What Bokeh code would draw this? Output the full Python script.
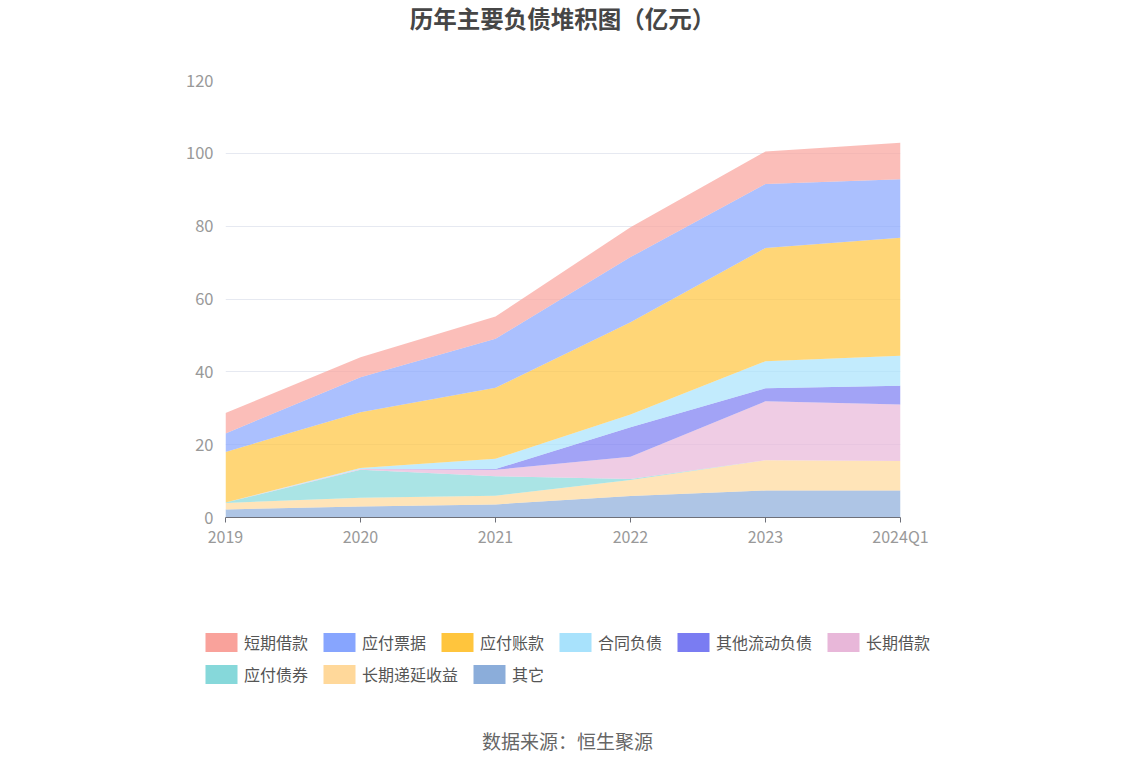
from bokeh.plotting import figure
from bokeh.models import ColumnDataSource, Legend, LegendItem, Label, FixedTicker
from bokeh.layouts import column
from bokeh.embed import file_html
from bokeh.resources import INLINE

years = ["2019", "2020", "2021", "2022", "2023", "2024Q1"]

# series, bottom to top of the stack (亿元)
qita = [2.2, 3.0, 3.6, 5.9, 7.4, 7.4]            # 其它
changqi_diyan = [1.8, 2.4, 2.4, 4.4, 8.3, 8.1]   # 长期递延收益
yingfu_zhaiquan = [0.1, 7.7, 5.3, 0.3, 0.0, 0.0] # 应付债券
changqi_jiekuan = [0.0, 0.2, 1.8, 6.1, 16.2, 15.5]  # 长期借款
qita_liudong = [0.0, 0.0, 0.2, 8.1, 3.6, 5.2]    # 其他流动负债
hetong_fuzhai = [0.0, 0.3, 2.8, 3.5, 7.4, 8.2]   # 合同负债
yingfu_zhangkuan = [13.9, 15.3, 19.5, 25.3, 31.1, 32.4]  # 应付账款
yingfu_piaoju = [5.1, 9.6, 13.5, 17.9, 17.6, 16.1]       # 应付票据
duanqi_jiekuan = [5.6, 5.5, 6.1, 8.2, 8.9, 10.0]         # 短期借款

names = ["其它", "长期递延收益", "应付债券", "长期借款", "其他流动负债",
         "合同负债", "应付账款", "应付票据", "短期借款"]
series = [qita, changqi_diyan, yingfu_zhaiquan, changqi_jiekuan, qita_liudong,
          hetong_fuzhai, yingfu_zhangkuan, yingfu_piaoju, duanqi_jiekuan]
colors = ["#8badda", "#ffd89a", "#86d8da", "#e8b7d9", "#7a7cf2",
          "#a8e2fc", "#ffc53d", "#87a5fe", "#f9a29b"]
color_of = dict(zip(names, colors))

legend_row1 = ["短期借款", "应付票据", "应付账款", "合同负债", "其他流动负债", "长期借款"]
legend_row2 = ["应付债券", "长期递延收益", "其它"]

y_ticks = [0, 20, 40, 60, 80, 100, 120]

FONT = "Noto Sans CJK SC"
W = 1126

data = {"x": list(range(len(years)))}
for n, s in zip(names, series):
    data[n] = s
source = ColumnDataSource(data)

# ---- title strip ----
TH = 65
top = figure(width=W, height=TH, x_range=(0, W), y_range=(0, TH),
             output_backend="svg", toolbar_location=None,
             x_axis_type=None, y_axis_type=None, min_border=0,
             frame_align=False)
top.outline_line_color = None
top.grid.visible = False
top.add_layout(Label(x=562, y=TH - 17, text="历年主要负债堆积图（亿元）",
                     text_align="center", text_baseline="middle",
                     text_font_size="23.5px", text_font_style="bold",
                     text_color="#464646", text_font=FONT))

# ---- main chart ----
p = figure(width=W, height=505, x_range=(0, len(years) - 1), y_range=(0, 120),
           output_backend="svg", toolbar_location=None,
           min_border_left=225, min_border_right=W - 900,
           min_border_top=15, min_border_bottom=53, frame_align=False)
p.outline_line_color = None

p.varea_stack(stackers=names, x="x", color=colors, fill_alpha=0.7, source=source)

p.xaxis.ticker = FixedTicker(ticks=list(range(len(years))))
p.xaxis.major_label_overrides = {i: y for i, y in enumerate(years)}
p.xaxis.axis_line_color = "#6e7079"
p.xaxis.major_tick_line_color = "#6e7079"
p.xaxis.major_tick_out = 5
p.xaxis.major_tick_in = 0
p.xaxis.minor_tick_line_color = None
p.xaxis.major_label_text_color = "#999999"
p.xaxis.major_label_text_font_size = "16px"
p.xaxis.major_label_text_font = FONT
p.xaxis.major_label_standoff = 1

p.yaxis.ticker = FixedTicker(ticks=y_ticks)
p.yaxis.axis_line_color = None
p.yaxis.major_tick_line_color = None
p.yaxis.major_tick_out = 0
p.yaxis.major_tick_in = 0
p.yaxis.minor_tick_line_color = None
p.yaxis.major_label_text_color = "#999999"
p.yaxis.major_label_text_font_size = "16.5px"
p.yaxis.major_label_text_font = FONT
p.yaxis.major_label_standoff = 12

p.xgrid.grid_line_color = None
p.ygrid.grid_line_color = "#e6e9f1"

# ---- legend + source strip ----
BH = 188
bot = figure(width=W, height=BH, x_range=(0, W), y_range=(0, BH),
             output_backend="svg", toolbar_location=None,
             x_axis_type=None, y_axis_type=None, min_border=0,
             frame_align=False)
bot.outline_line_color = None
bot.grid.visible = False

dummy = {}
for n in names:
    # a single off-canvas rectangle, only used for the legend swatch
    src = ColumnDataSource(dict(left=[-50], right=[-40], top=[-40], bottom=[-50]))
    dummy[n] = bot.quad(left="left", right="right", top="top", bottom="bottom",
                        source=src, fill_color=color_of[n], line_color=None,
                        border_radius=4)

def make_legend(row, loc):
    return Legend(items=[LegendItem(label=n, renderers=[dummy[n]]) for n in row],
                  orientation="horizontal", location=loc,
                  glyph_width=40, glyph_height=24, label_standoff=3, spacing=11,
                  padding=0, margin=0, border_line_color=None,
                  background_fill_alpha=0,
                  label_text_font=FONT, label_text_font_size="16px",
                  label_text_color="#555555")

bot.add_layout(make_legend(legend_row1, (201, 104)))
bot.add_layout(make_legend(legend_row2, (201, 72)))

bot.add_layout(Label(x=567, y=18, text="数据来源：恒生聚源", text_align="center",
                     text_baseline="middle", text_font_size="19px",
                     text_color="#666666", text_font=FONT))

layout = column(top, p, bot, spacing=0)
open("out.html", "w").write(file_html(layout, INLINE))
